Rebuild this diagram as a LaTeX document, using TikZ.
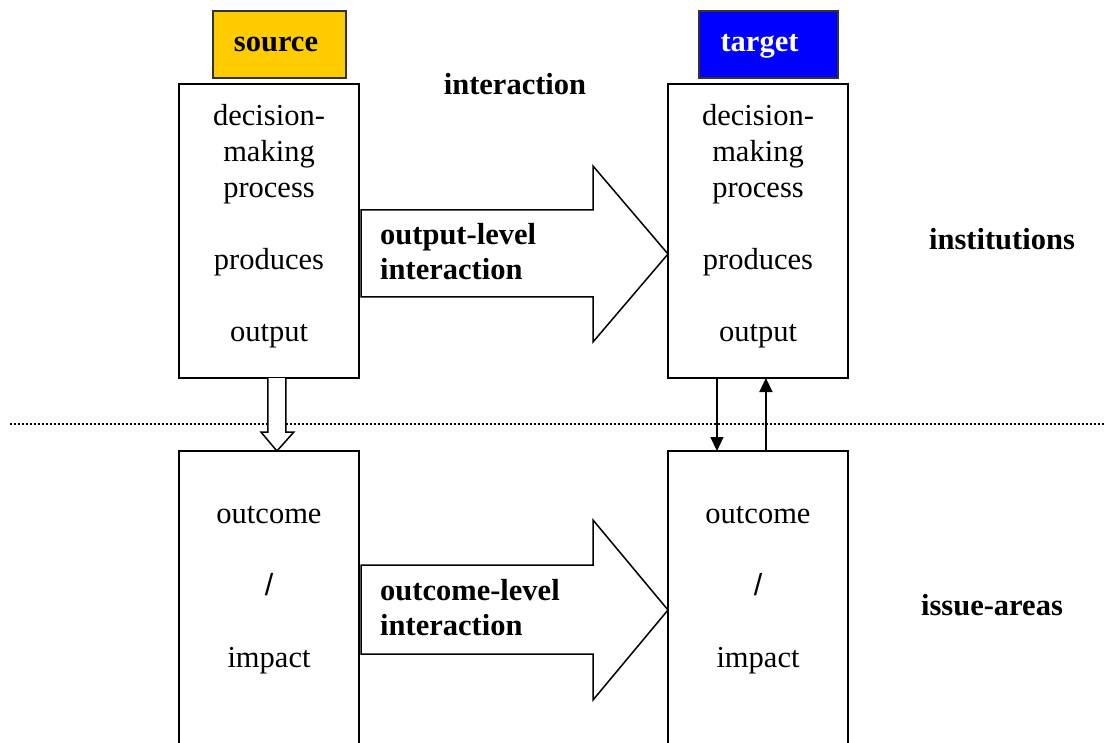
\documentclass[tikz,border=0pt]{standalone}
\usepackage{fontspec}
\setmainfont{Liberation Serif}
\newfontfamily\slashfont{Liberation Sans}
\usetikzlibrary{arrows.meta,calc}
\definecolor{srcyellow}{HTML}{FFCC00}
\definecolor{tgtblue}{HTML}{0000FF}
\begin{document}
\begin{tikzpicture}[x=1pt,y=-1pt,
  box/.style={draw,line width=1.6pt,minimum width=180pt,inner sep=0pt,outer sep=0pt},
  tagbox/.style={draw=black!80,line width=1.2pt,inner sep=0pt,outer sep=0pt,minimum height=67pt},
  txt/.style={font=\fontsize{30.5}{36}\selectfont,anchor=base,inner sep=0pt},
  btxt/.style={font=\fontsize{30.5}{36}\selectfont\bfseries,anchor=base,inner sep=0pt},
  ltxt/.style={font=\fontsize{30.5}{36}\selectfont\bfseries,anchor=base west,inner sep=0pt},
  bigarrow/.style={draw,fill=white,line width=1.5pt,line join=miter},
  thinarrow/.style={line width=1.5pt,-{Triangle[length=14pt,width=13pt]}},
  sep/.style={line width=1.2pt,dash pattern=on 2pt off 2pt}
]
\useasboundingbox (0,0) rectangle (1106,743);
\clip (0,0) rectangle (1106,743);

% separator
\coordinate (sepL) at (10,424);
\coordinate (sepR) at (1106,424);
\draw[sep] (sepL) -- (sepR);

% tag boxes
\node[tagbox,fill=srcyellow,minimum width=133pt] (src) at (279.5,44.5) {};
\node[btxt] (srct) at (276,52) {source};
\node[tagbox,fill=tgtblue,minimum width=139pt] (tgt) at (768.5,44.5) {};
\node[btxt,text=white] (tgtt) at (759.5,52) {target};

% main boxes
\node[box,minimum height=294pt] (lt) at (269,231) {};
\node[box,minimum height=294pt] (rt) at (758,231) {};
\node[box,minimum height=330pt] (lb) at (269,616) {};
\node[box,minimum height=330pt] (rb) at (758,616) {};

% texts in top boxes
\node[txt] (l1) at (269,125.5) {decision-};
\node[txt] (l2) at (269,161.5) {making};
\node[txt] (l3) at (269,197.5) {process};
\node[txt] (l4) at (269,269.5) {produces};
\node[txt] (l5) at (269,341.5) {output};
\node[txt] (r1) at (758,125.5) {decision-};
\node[txt] (r2) at (758,161.5) {making};
\node[txt] (r3) at (758,197.5) {process};
\node[txt] (r4) at (758,269.5) {produces};
\node[txt] (r5) at (758,341.5) {output};

% texts in bottom boxes
\node[txt] (lb1) at (269,523.5) {outcome};
\node[txt] (lb2) at (269,595.5) {\slashfont /};
\node[txt] (lb3) at (269,667.5) {impact};
\node[txt] (rb1) at (758,523.5) {outcome};
\node[txt] (rb2) at (758,595.5) {\slashfont /};
\node[txt] (rb3) at (758,667.5) {impact};

% side labels
\node[btxt] (inter) at (515,95) {interaction};
\node[btxt] (inst) at (1002,250) {institutions};
\node[btxt] (issue) at (992,615) {issue-areas};

% big arrows
\draw[bigarrow] (361,210) -- (593,210) -- (593,166) -- (rt.west |- 0,254) -- (593,342) -- (593,297) -- (361,297) -- cycle;
\node[ltxt] (oa1) at (380,245) {output-level};
\node[ltxt] (oa2) at (380,280) {interaction};

\draw[bigarrow] (361,565) -- (593,565) -- (593,520) -- (rb.west |- 0,610) -- (593,700) -- (593,654) -- (361,654) -- cycle;
\node[ltxt] (ob1) at (380,600) {outcome-level};
\node[ltxt] (ob2) at (380,635) {interaction};

% hollow arrow from source output to source outcome
\coordinate (ha) at ($(lt.south west)!0.544!(lt.south east)$);
\coordinate (hb) at ($(lb.north west)!0.544!(lb.north east)$);
\draw[bigarrow] ($(ha)+(-9,0)$) -- ($(ha)+(-9,54)$) -- ($(ha)+(-16,54)$) -- (hb) -- ($(ha)+(17,54)$) -- ($(ha)+(9,54)$) -- ($(ha)+(9,0)$);

% target arrows
\coordinate (d1) at ($(rt.south west)!0.272!(rt.south east)$);
\coordinate (d2) at ($(rb.north west)!0.272!(rb.north east)$);
\coordinate (u1) at ($(rb.north west)!0.544!(rb.north east)$);
\coordinate (u2) at ($(rt.south west)!0.544!(rt.south east)$);
\draw[thinarrow] (d1) -- (d2);
\draw[thinarrow] (u1) -- (u2);
\end{tikzpicture}
\end{document}
